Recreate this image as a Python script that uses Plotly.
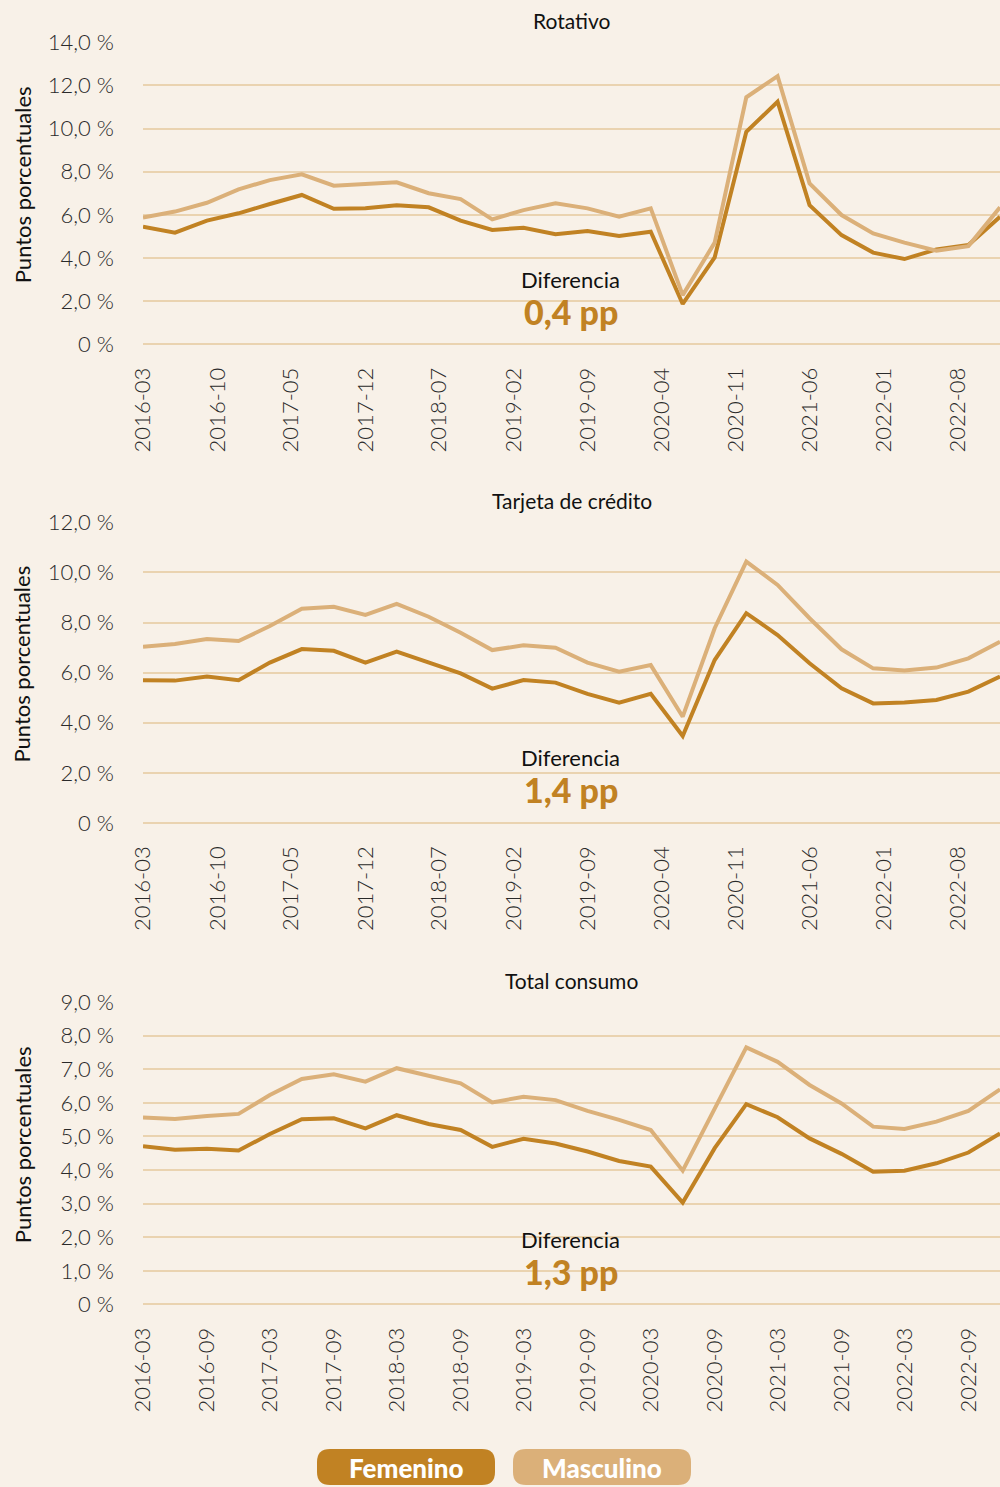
import pandas as pd
import plotly.graph_objects as go

# Quarterly observation dates (Mar 2016 .. Dec 2022)
dates = pd.date_range("2016-03-01", periods=28, freq="3MS")

# Rotativo
rot_fem = [5.45, 5.17, 5.73, 6.07, 6.50, 6.92, 6.28, 6.30, 6.44, 6.35, 5.73, 5.30, 5.40, 5.10,
           5.25, 5.02, 5.22, 1.87, 4.03, 9.85, 11.24, 6.45, 5.06, 4.25, 3.95, 4.40, 4.60, 5.91]
rot_masc = [5.87, 6.15, 6.56, 7.18, 7.61, 7.88, 7.35, 7.43, 7.51, 7.00, 6.73, 5.79, 6.22, 6.53,
            6.30, 5.91, 6.30, 2.28, 4.71, 11.45, 12.43, 7.46, 5.99, 5.14, 4.71, 4.34, 4.55, 6.35]

# Tarjeta de crédito
tc_fem = [5.69, 5.68, 5.84, 5.70, 6.40, 6.94, 6.87, 6.40, 6.84, 6.40, 5.97, 5.36, 5.70, 5.60,
          5.15, 4.80, 5.15, 3.47, 6.50, 8.37, 7.50, 6.37, 5.37, 4.77, 4.81, 4.91, 5.24, 5.84]
tc_masc = [7.03, 7.14, 7.34, 7.26, 7.86, 8.55, 8.63, 8.30, 8.74, 8.23, 7.59, 6.90, 7.09, 6.99,
           6.40, 6.04, 6.30, 4.24, 7.77, 10.43, 9.50, 8.17, 6.93, 6.17, 6.08, 6.20, 6.57, 7.23]

# Total consumo
tot_fem = [4.71, 4.60, 4.63, 4.58, 5.07, 5.51, 5.54, 5.24, 5.63, 5.37, 5.19, 4.69, 4.93, 4.79,
           4.55, 4.27, 4.10, 3.03, 4.65, 5.96, 5.57, 4.94, 4.48, 3.95, 3.98, 4.20, 4.52, 5.09]
tot_masc = [5.56, 5.52, 5.61, 5.67, 6.23, 6.71, 6.85, 6.63, 7.03, 6.80, 6.58, 6.01, 6.18, 6.08,
            5.76, 5.49, 5.19, 3.98, 5.84, 7.65, 7.22, 6.53, 5.98, 5.29, 5.22, 5.44, 5.76, 6.40]

panel_titles = ["Rotativo", "Tarjeta de crédito", "Total consumo"]

ticks_7m = ["2016-03", "2016-10", "2017-05", "2017-12", "2018-07", "2019-02", "2019-09",
            "2020-04", "2020-11", "2021-06", "2022-01", "2022-08"]
ticks_6m = ["2016-03", "2016-09", "2017-03", "2017-09", "2018-03", "2018-09", "2019-03",
            "2019-09", "2020-03", "2020-09", "2021-03", "2021-09", "2022-03", "2022-09"]

y_max = [14, 12, 9]
y_step = [2, 2, 1]

W, H = 1000, 1487
BG = "#f8f1e8"
C_FEM = "#c18223"
C_MASC = "#dbb079"
GRID = "#ead3b0"
FONT = "Lato"
TXT = "#2a2a2a"

# pixel layout of the three plot areas (top of range, zero line)
panel_px = [(42.2, 344.3), (522.3, 822.9), (1002.0, 1304.4)]
x_left, x_right = 143, 1000


def px(x):
    return x / W


def py(y):
    return 1 - y / H


def pct_label(v):
    return "0 %" if v == 0 else f"{v:.1f}".replace(".", ",") + " %"


fig = go.Figure()

series = [(rot_fem, rot_masc), (tc_fem, tc_masc), (tot_fem, tot_masc)]
tick_sets = [ticks_7m, ticks_7m, ticks_6m]

for i, (fem, masc) in enumerate(series):
    n = "" if i == 0 else str(i + 1)
    fig.add_trace(go.Scatter(x=dates, y=fem, mode="lines", name="Femenino",
                             line=dict(color=C_FEM, width=4), xaxis="x" + n, yaxis="y" + n,
                             showlegend=False, hoverinfo="skip"))
    fig.add_trace(go.Scatter(x=dates, y=masc, mode="lines", name="Masculino",
                             line=dict(color=C_MASC, width=4), xaxis="x" + n, yaxis="y" + n,
                             showlegend=False, hoverinfo="skip"))

    top, zero = panel_px[i]
    yvals = list(range(0, y_max[i] + 1, y_step[i]))
    fig.update_layout(**{
        "xaxis" + n: dict(
            domain=[px(x_left), px(x_right)],
            anchor="y" + n,
            type="date",
            range=[dates[0], dates[-1]],
            tickvals=[t + "-01" for t in tick_sets[i]],
            ticktext=tick_sets[i],
            tickangle=-90,
            ticks="",
            ticklabelstandoff=18,
            showgrid=False,
            zeroline=False,
            showline=False,
            automargin=False,
            tickfont=dict(family=FONT, size=22, color=TXT, weight=300),
        ),
        "yaxis" + n: dict(
            domain=[py(zero), py(top)],
            anchor="x" + n,
            range=[0, y_max[i]],
            tickvals=yvals,
            ticktext=[pct_label(v) for v in yvals],
            ticks="",
            ticklabelstandoff=28,
            showgrid=True,
            gridcolor=GRID,
            gridwidth=2,
            zeroline=True,
            zerolinecolor=GRID,
            zerolinewidth=2,
            showline=False,
            automargin=False,
            tickfont=dict(family=FONT, size=22, color=TXT, weight=300),
        ),
    })

    # panel title
    fig.add_annotation(x=px((x_left + x_right) / 2), y=py(top - 22), xref="paper", yref="paper",
                       text=panel_titles[i], showarrow=False, xanchor="center", yanchor="middle",
                       font=dict(family=FONT, size=21, color="#111111"))
    # y-axis title
    fig.add_annotation(x=px(22), y=py((top + zero) / 2 - 8), xref="paper", yref="paper",
                       text="Puntos porcentuales", textangle=-90, showarrow=False,
                       xanchor="center", yanchor="middle",
                       font=dict(family=FONT, size=22, color="#111111"))
    # gap between the two series at the last observation
    diff = masc[-1] - fem[-1]
    fig.add_annotation(x=px(570), y=py(zero - 65), xref="paper", yref="paper",
                       text="Diferencia", showarrow=False, xanchor="center", yanchor="middle",
                       font=dict(family=FONT, size=22, color="#111111"))
    fig.add_annotation(x=px(571), y=py(zero - 33), xref="paper", yref="paper",
                       text=f"{diff:.1f}".replace(".", ",") + " pp", showarrow=False,
                       xanchor="center", yanchor="middle",
                       font=dict(family=FONT, size=34, color=C_FEM, weight=900))


# legend badges
def rounded_rect(x0, y0, x1, y1, r):
    pts = [
        f"M {px(x0 + r)},{py(y0)}",
        f"L {px(x1 - r)},{py(y0)}",
        f"Q {px(x1)},{py(y0)} {px(x1)},{py(y0 + r)}",
        f"L {px(x1)},{py(y1 - r)}",
        f"Q {px(x1)},{py(y1)} {px(x1 - r)},{py(y1)}",
        f"L {px(x0 + r)},{py(y1)}",
        f"Q {px(x0)},{py(y1)} {px(x0)},{py(y1 - r)}",
        f"L {px(x0)},{py(y0 + r)}",
        f"Q {px(x0)},{py(y0)} {px(x0 + r)},{py(y0)}",
        "Z",
    ]
    return " ".join(pts)


legend_items = [("Femenino", C_FEM, 317, 495), ("Masculino", C_MASC, 513, 691)]
for label, color, x0, x1 in legend_items:
    fig.add_shape(type="path", xref="paper", yref="paper",
                  path=rounded_rect(x0, 1449, x1, 1485, 13),
                  fillcolor=color, line=dict(width=0), layer="above")
    fig.add_annotation(x=px((x0 + x1) / 2), y=py(1468), xref="paper", yref="paper",
                       text=label, showarrow=False, xanchor="center", yanchor="middle",
                       font=dict(family=FONT, size=26, color="#ffffff", weight=900))

fig.update_layout(
    width=W, height=H,
    margin=dict(l=0, r=0, t=0, b=0, autoexpand=False),
    paper_bgcolor=BG, plot_bgcolor=BG,
    showlegend=False,
)

fig.write_html("out.html")
